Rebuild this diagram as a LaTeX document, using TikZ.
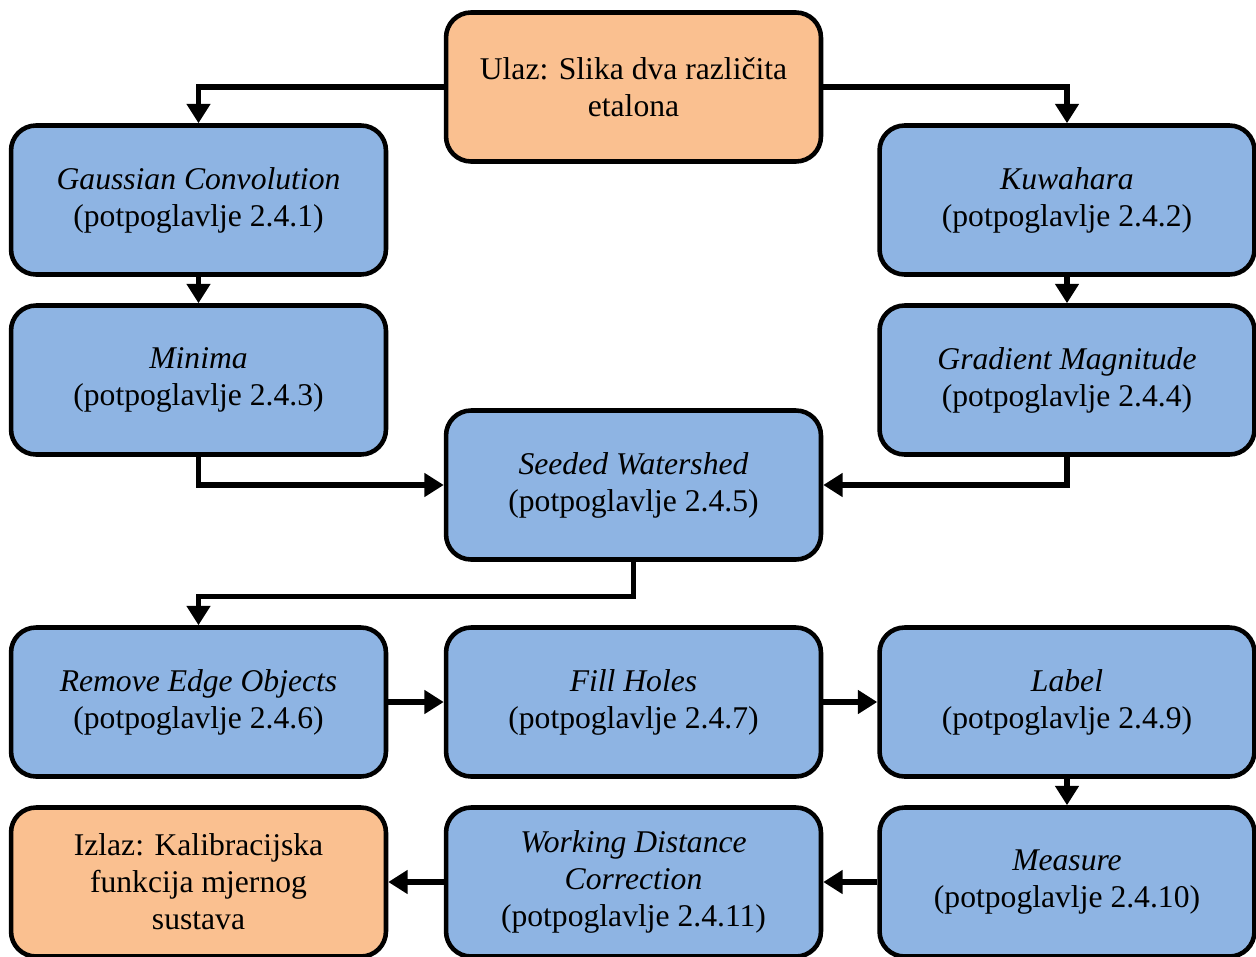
\documentclass[tikz,border=0pt]{standalone}
\usepackage{fontspec}
\setmainfont{Liberation Serif}
\usetikzlibrary{arrows.meta}
\definecolor{boxBlue}{HTML}{8EB4E3}
\definecolor{boxOrange}{HTML}{FAC090}
\begin{document}
\begin{tikzpicture}
        [x=0.02cm, y=-0.02cm,
        proc/.style={rectangle, rounded corners=0.5cm, draw, line width=2.6pt, minimum width=7.5cm, minimum height=2.98cm, align=center, font=\fontsize{18}{21}\selectfont, fill=boxBlue},
        procOrange/.style={proc, fill=boxOrange},
        arr/.style={line width=3pt, -{Triangle[width=13pt, length=11pt]}}]
        \useasboundingbox (0,0) rectangle (1256,956);
        \node[procOrange] (In) at (633.5,87) {Ulaz: Slika dva različita\\etalona};
        \node[proc] (Gauss) at (198.5,200) {\textit{Gaussian Convolution}\\(potpoglavlje 2.4.1)};
        \node[proc] (Kuwa) at (1067,200) {\textit{Kuwahara}\\(potpoglavlje 2.4.2)};
        \node[proc] (Min) at (198.5,380) {\textit{Minima}\\(potpoglavlje 2.4.3)};
        \node[proc] (Grad) at (1067,380) {\textit{Gradient Magnitude}\\(potpoglavlje 2.4.4)};
        \node[proc] (Seed) at (633.5,485) {\textit{Seeded Watershed}\\(potpoglavlje 2.4.5)};
        \node[proc] (Edge) at (198.5,702) {\textit{Remove Edge Objects}\\(potpoglavlje 2.4.6)};
        \node[proc] (Fill) at (633.5,702) {\textit{Fill Holes}\\(potpoglavlje 2.4.7)};
        \node[proc] (Lab) at (1067,702) {\textit{Label}\\(potpoglavlje 2.4.9)};
        \node[proc] (Meas) at (1067,882) {\textit{Measure}\\(potpoglavlje 2.4.10)};
        \node[proc] (Wdc) at (633.5,882) {\textit{Working Distance}\\\textit{Correction}\\(potpoglavlje 2.4.11)};
        \node[procOrange] (Out) at (198.5,882) {Izlaz: Kalibracijska\\funkcija mjernog\\sustava};
        
        \draw[arr] (In.west) -| (Gauss.north);
        \draw[arr] (In.east) -| (Kuwa.north);
        \draw[arr] (Gauss) -- (Min);
        \draw[arr] (Kuwa) -- (Grad);
        \draw[arr] (Min.south) |- (Seed.west);
        \draw[arr] (Grad.south) |- (Seed.east);
        \draw[arr] (Seed.south) -- ++(0,35) -| (Edge.north);
        \draw[arr] (Edge) -- (Fill);
        \draw[arr] (Fill) -- (Lab);
        \draw[arr] (Lab) -- (Meas);
        \draw[arr] (Meas) -- (Wdc);
        \draw[arr] (Wdc) -- (Out);
    
    \end{tikzpicture}
\end{document}
